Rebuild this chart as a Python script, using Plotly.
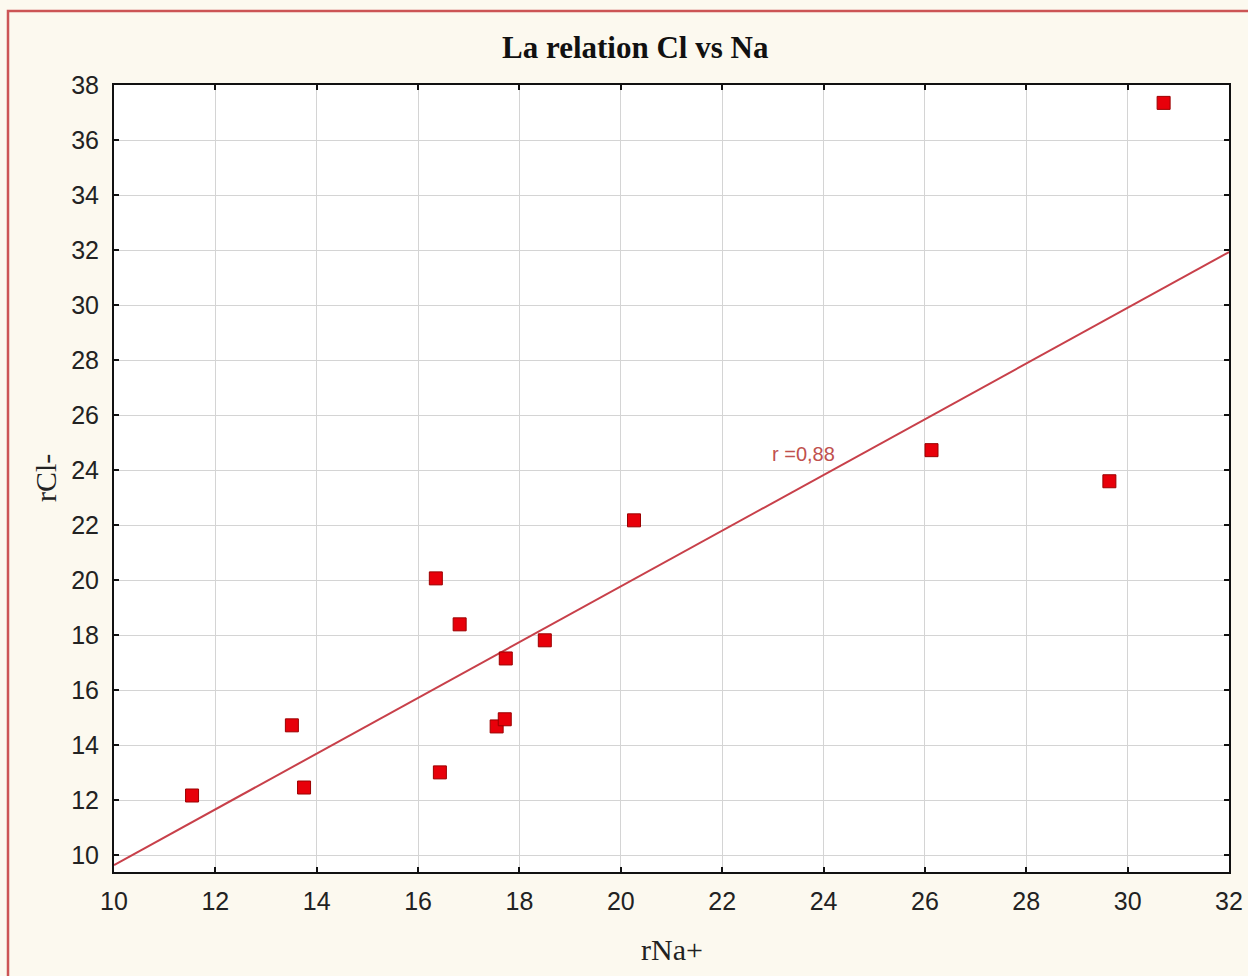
import numpy as np
import plotly.graph_objects as go

# Data
rNa = [11.54, 13.51, 13.75, 16.35, 16.82, 16.43, 17.55, 17.71, 17.73, 18.50, 20.26, 26.13, 29.64, 30.71]
rCl = [12.18, 14.73, 12.47, 20.07, 18.40, 13.02, 14.69, 14.95, 17.16, 17.82, 22.18, 24.73, 23.60, 37.35]
x_ticks = [10, 12, 14, 16, 18, 20, 22, 24, 26, 28, 30, 32]
y_ticks = [10, 12, 14, 16, 18, 20, 22, 24, 26, 28, 30, 32, 34, 36, 38]
x_range = [10, 32]
y_range = [9.4, 38]
title_text = "La relation Cl vs Na"
x_title = "rNa+"
y_title = "rCl-"

xa = np.array(rNa)
ya = np.array(rCl)
slope, intercept = np.polyfit(xa, ya, 1)
r = np.corrcoef(xa, ya)[0, 1]
fit_x = np.array(x_range, dtype=float)
fit_y = intercept + slope * fit_x

L, R, T, B = 114, 19, 85, 104
PW, PH = 1248 - L - R, 976 - T - B

def px(xp):
    return (xp - L) / PW

def py(yp):
    return (T + PH - yp) / PH

fig = go.Figure()
fig.add_trace(go.Scatter(
    x=fit_x, y=fit_y, mode="lines",
    line=dict(color="#c8404a", width=2), hoverinfo="skip", showlegend=False))
fig.add_trace(go.Scatter(
    x=rNa, y=rCl, mode="markers",
    marker=dict(symbol="square", size=13, color="#e8000a",
                line=dict(color="#9a0000", width=1)),
    showlegend=False))

fig.add_annotation(
    x=23.6, y=24.58, xref="x", yref="y", showarrow=False,
    xanchor="center", yanchor="middle",
    text="r =" + f"{r:.2f}".replace(".", ","),
    font=dict(family="Liberation Sans, Arial", size=20, color="#c0504d"))

fig.add_annotation(
    x=px(635), y=py(48), xref="paper", yref="paper",
    xanchor="center", yanchor="middle",
    showarrow=False, text="<b>" + title_text + "</b>",
    font=dict(family="Liberation Serif, Times New Roman", size=31, color="#111111"))
fig.add_annotation(
    x=px(672), y=py(950), xref="paper", yref="paper",
    xanchor="center", yanchor="middle",
    showarrow=False, text=x_title,
    font=dict(family="Liberation Serif, Times New Roman", size=30, color="#222222"))
fig.add_annotation(
    x=px(45), y=py(478), xref="paper", yref="paper",
    xanchor="center", yanchor="middle",
    showarrow=False, text=y_title, textangle=-90,
    font=dict(family="Liberation Serif, Times New Roman", size=30, color="#222222"))

# outer red border
fig.add_shape(type="rect", xref="paper", yref="paper",
              x0=px(8), x1=px(1260),
              y0=py(985), y1=py(11),
              line=dict(color="#cc5555", width=2.5), fillcolor="rgba(0,0,0,0)",
              layer="below")

axis_common = dict(
    showline=True, linecolor="#111111", linewidth=2, mirror="ticks",
    ticks="inside", ticklen=5, tickcolor="#111111", tickwidth=1.5,
    showgrid=True, gridcolor="#d4d4d4", gridwidth=1, zeroline=False,
    automargin=False,
    tickfont=dict(family="Liberation Sans, Arial", size=25, color="#222222"),
)
fig.update_xaxes(range=x_range, tickvals=x_ticks, ticklabelstandoff=6, **axis_common)
fig.update_yaxes(range=y_range, tickvals=y_ticks, ticklabelstandoff=8, **axis_common)

fig.update_layout(
    width=1248, height=976, autosize=False,
    margin=dict(l=L, r=R, t=T, b=B, autoexpand=False),
    paper_bgcolor="#fcf9ef", plot_bgcolor="#ffffff",
    showlegend=False,
)

fig.write_html(
    "out.html",
    config={"displayModeBar": False, "responsive": False},
    post_script=(
        "document.documentElement.style.overflow='hidden';"
        "document.body.style.margin='0';document.body.style.overflow='hidden';"
    ),
)
